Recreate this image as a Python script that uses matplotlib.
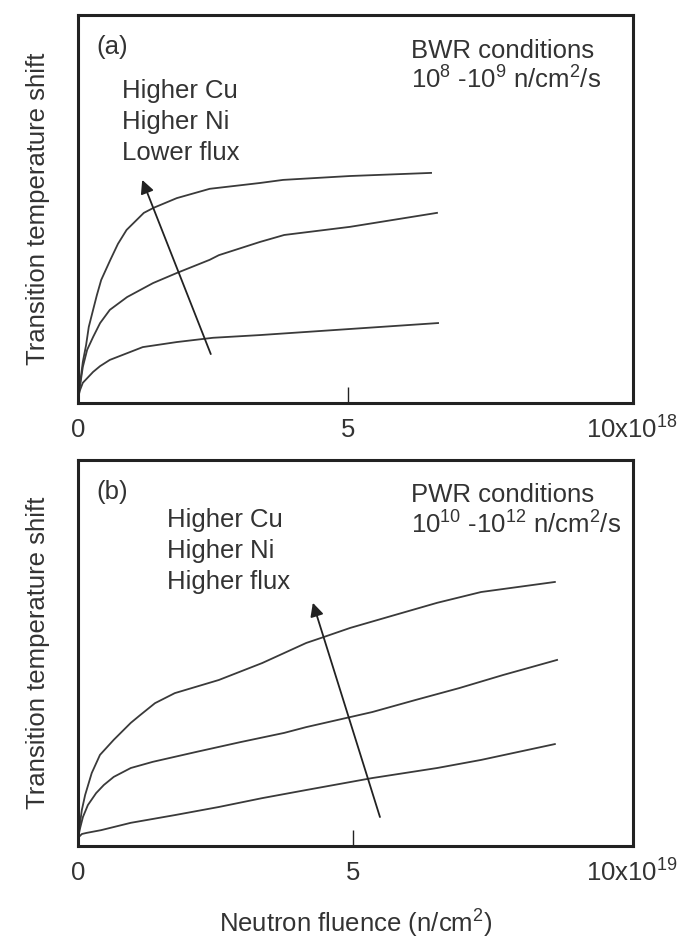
import numpy as np
import matplotlib.pyplot as plt

plt.rcParams["font.family"] = ["Liberation Sans", "DejaVu Sans"]
plt.rcParams["mathtext.default"] = "regular"

TXT = "#333333"
LINE = "#3a3a3a"

# (a) BWR: fluence in 1e18 n/cm2, shift in arbitrary units
bwr_high_x = [0, 0.04, 0.09, 0.15, 0.2, 0.28, 0.35, 0.43, 0.6, 0.74, 0.9, 1.22, 1.4, 1.83, 2.44, 3.37, 3.8, 5.04, 6.54]
bwr_high_y = [1.3, 5.2, 10.6, 14.9, 19.6, 24.0, 27.8, 31.7, 36.9, 41.0, 44.6, 49.0, 50.3, 52.8, 55.2, 56.7, 57.5, 58.5, 59.3]
bwr_mid_x = [0, 0.04, 0.09, 0.17, 0.28, 0.41, 0.59, 0.91, 1.15, 1.39, 1.83, 2.44, 2.61, 3.37, 3.82, 5.04, 6.65]
bwr_mid_y = [1.3, 4.6, 9.3, 13.7, 17.0, 20.6, 24.0, 27.3, 29.1, 30.9, 33.5, 36.9, 38.1, 41.5, 43.3, 45.4, 49.0]
bwr_low_x = [0, 0.04, 0.09, 0.28, 0.41, 0.59, 1.2, 1.83, 2.5, 3.37, 4.22, 6.67]
bwr_low_y = [1.3, 3.4, 5.2, 8.0, 9.5, 11.1, 14.4, 15.7, 16.8, 17.5, 18.3, 20.6]

# (b) PWR: fluence in 1e19 n/cm2
pwr_high_x = [0, 0.04, 0.07, 0.13, 0.25, 0.4, 0.65, 0.96, 1.13, 1.4, 1.76, 2.56, 3.35, 4.15, 4.42, 4.95, 5.75, 6.53, 7.33, 8.67]
pwr_high_y = [2.1, 6.2, 9.3, 13.2, 18.9, 23.6, 27.5, 31.9, 33.9, 37.0, 39.6, 43.0, 47.4, 52.6, 53.9, 56.5, 59.8, 63.0, 65.8, 68.4]
pwr_mid_x = [0, 0.04, 0.09, 0.18, 0.33, 0.47, 0.65, 0.96, 1.36, 2.16, 2.95, 3.75, 4.15, 4.95, 5.35, 6.13, 6.93, 7.73, 8.71]
pwr_mid_y = [2.1, 4.7, 7.5, 10.6, 13.7, 15.8, 17.9, 20.2, 21.8, 24.4, 26.9, 29.3, 30.8, 33.4, 34.7, 37.8, 40.9, 44.3, 48.2]
pwr_low_x = [0, 0.07, 0.16, 0.42, 0.96, 1.76, 2.56, 3.35, 4.15, 5.35, 6.53, 7.33, 8.67]
pwr_low_y = [2.1, 3.1, 3.4, 4.1, 6.0, 8.0, 10.1, 12.4, 14.5, 17.6, 20.2, 22.3, 26.4]

# trend arrows (tail, head)
bwr_arrow = [(2.46, 12.6), (1.19, 57.5)]
pwr_arrow = [(5.49, 7.5), (4.27, 63.0)]

FS = 18.5


def panel(ax, curves, arrow, xmax, tag, cond, flux, trend, unit):
    for x, y in curves:
        ax.plot(x, y, color=LINE, lw=1.3, solid_joinstyle="round")
    (x0, y0), (x1, y1) = arrow
    ax.annotate("", xy=(x1, y1), xytext=(x0, y0),
                arrowprops=dict(arrowstyle="-|>", color="#222222", lw=1.3,
                                mutation_scale=20, shrinkA=0, shrinkB=0))
    ax.set_xlim(0, xmax)
    ax.set_ylim(0, 100)
    ax.set_yticks([])
    ax.set_xticks([0, 5])
    ax.set_xticklabels(["0", "5"], fontsize=FS, color=TXT)
    ax.tick_params(axis="x", direction="in", length=11.5, width=1.0,
                   color="#222222", pad=11)
    for s in ax.spines.values():
        s.set_linewidth(2.2)
        s.set_color("#222222")
    ax.set_ylabel("Transition temperature shift", fontsize=FS, color=TXT, labelpad=20)
    ax.text(0.034, 0.9, tag, transform=ax.transAxes, fontsize=FS, color=TXT,
            va="baseline")
    ax.text(0.60, 0.89, cond, transform=ax.transAxes, fontsize=FS, color=TXT,
            va="baseline")
    ax.text(0.60, 0.81, flux, transform=ax.transAxes, fontsize=FS, color=TXT,
            va="baseline")
    for i, t in enumerate(trend):
        ax.text(trend_x[tag], trend_top[tag] - i * 0.08, t, transform=ax.transAxes,
                fontsize=FS, color=TXT, va="baseline")
    ax.text(1.0 - 0.084, -0.07, unit, transform=ax.transAxes, fontsize=FS,
            color=TXT, va="center", ha="left")


trend_x = {"(a)": 0.079, "(b)": 0.160}
trend_top = {"(a)": 0.786, "(b)": 0.826}

fig = plt.figure(figsize=(6.84, 9.38), dpi=100)
ax1 = fig.add_axes([0.114, 0.5704, 0.8114, 0.4136])
ax2 = fig.add_axes([0.114, 0.0981, 0.8114, 0.4115])

panel(ax1, [(bwr_high_x, bwr_high_y), (bwr_mid_x, bwr_mid_y), (bwr_low_x, bwr_low_y)],
      bwr_arrow, 10.28, "(a)", "BWR conditions", "10$^{8}$ -10$^{9}$ n/cm$^{2}$/s",
      ["Higher Cu", "Higher Ni", "Lower flux"], "10x10$^{18}$")
panel(ax2, [(pwr_high_x, pwr_high_y), (pwr_mid_x, pwr_mid_y), (pwr_low_x, pwr_low_y)],
      pwr_arrow, 10.09, "(b)", "PWR conditions", "10$^{10}$ -10$^{12}$ n/cm$^{2}$/s",
      ["Higher Cu", "Higher Ni", "Higher flux"], "10x10$^{19}$")

ax2.set_xlabel("Neutron fluence (n/cm$^{2}$)", fontsize=FS, color=TXT, labelpad=16)

fig.savefig("out.png", dpi=100)
